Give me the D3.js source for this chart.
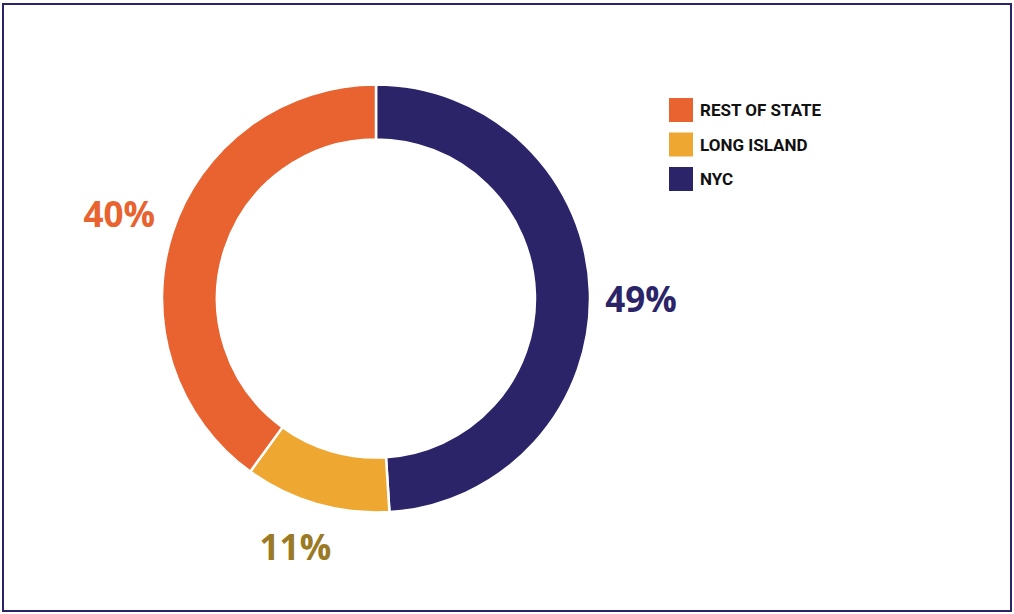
<!DOCTYPE html>
<html>
<head>
<meta charset="utf-8">
<script src="https://cdn.jsdelivr.net/npm/d3@7"></script>
<style>
  body { margin: 0; background: #fff; }
  svg { display: block; }
</style>
</head>
<body>
<svg width="1014" height="614"></svg>
<script>
var categories = ["NYC", "LONG ISLAND", "REST OF STATE"];
var values = [49, 11, 40];
var labels = ["49%", "11%", "40%"];
var legendOrder = ["REST OF STATE", "LONG ISLAND", "NYC"];

var colors = {"NYC": "#2b2468", "LONG ISLAND": "#eea832", "REST OF STATE": "#e8632f"};
var labelColors = {"NYC": "#2b2468", "LONG ISLAND": "#9b7a25", "REST OF STATE": "#e8632f"};

var svg = d3.select("svg"),
	width = +svg.attr("width"),
	height = +svg.attr("height");

// frame
svg.append("rect")
	.attr("x", 3).attr("y", 4)
	.attr("width", width - 6).attr("height", height - 7)
	.attr("fill", "none")
	.attr("stroke", "#2b2468")
	.attr("stroke-width", 2);

var cx = 376, cy = 298.5,
	outerR = 214, innerR = 159;

var data = categories.map(function(c, i) { return {name: c, value: values[i], label: labels[i]}; });

var pie = d3.pie()
	.sort(null)
	.value(function(d) { return d.value; });

var arc = d3.arc()
	.innerRadius(innerR)
	.outerRadius(outerR);

var g = svg.append("g")
	.attr("transform", "translate(" + cx + "," + cy + ")");

var arcs = pie(data);

g.selectAll("path")
	.data(arcs)
	.enter().append("path")
	.attr("d", arc)
	.attr("fill", function(d) { return colors[d.data.name]; })
	.attr("stroke", "#fff")
	.attr("stroke-width", 2.5);

// labels sit outside the ring near each slice's mid angle
var labelR = {"NYC": 265, "LONG ISLAND": 262, "REST OF STATE": 270};
var labelShift = {"NYC": 0.035, "LONG ISLAND": 0.03, "REST OF STATE": 0};

function labelPos(d) {
	var a = (d.startAngle + d.endAngle) / 2 + labelShift[d.data.name],
		r = labelR[d.data.name];
	return [Math.sin(a) * r, -Math.cos(a) * r];
}

g.selectAll("text.pct")
	.data(arcs)
	.enter().append("text")
	.attr("class", "pct")
	.attr("x", function(d) { return labelPos(d)[0]; })
	.attr("y", function(d) { return labelPos(d)[1]; })
	.attr("text-anchor", "middle")
	.attr("dy", "0.35em")
	.attr("font-family", "'Open Sans', sans-serif")
	.attr("font-weight", "bold")
	.attr("font-size", 35)
	.attr("fill", function(d) { return labelColors[d.data.name]; })
	.text(function(d) { return d.data.label; });

// legend
var legend = svg.append("g")
	.attr("transform", "translate(669,98)");

var item = legend.selectAll("g")
	.data(legendOrder)
	.enter().append("g")
	.attr("transform", function(d, i) { return "translate(0," + (i * 34.5) + ")"; });

item.append("rect")
	.attr("width", 24).attr("height", 24)
	.attr("fill", function(d) { return colors[d]; });

item.append("text")
	.attr("x", 31).attr("y", 12)
	.attr("dy", "0.36em")
	.attr("font-family", "Roboto, sans-serif")
	.attr("font-weight", "bold")
	.attr("font-size", 17)
	.attr("fill", "#111")
	.text(function(d) { return d; });
</script>
</body>
</html>
